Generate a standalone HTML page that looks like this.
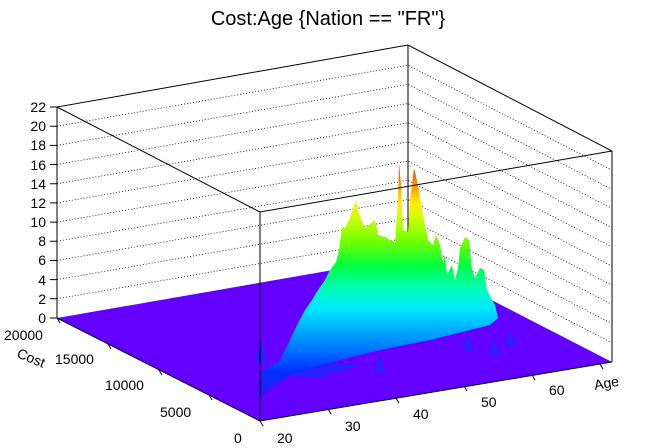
<!DOCTYPE html>
<html><head><style>
body{margin:0;background:#fff;}
svg{display:block;font-family:"Liberation Sans",Arial,sans-serif;}
</style></head><body>
<svg width="656" height="448" viewBox="0 0 656 448">
<defs>
<linearGradient id="g" x1="0" y1="400" x2="0" y2="160" gradientUnits="userSpaceOnUse">
<stop offset="0" stop-color="#3a10ff"/>
<stop offset="0.12" stop-color="#0030ff"/>
<stop offset="0.25" stop-color="#0090ff"/>
<stop offset="0.38" stop-color="#00e8ff"/>
<stop offset="0.47" stop-color="#00ffb0"/>
<stop offset="0.56" stop-color="#00ff40"/>
<stop offset="0.66" stop-color="#70ff00"/>
<stop offset="0.76" stop-color="#d0ff00"/>
<stop offset="0.82" stop-color="#ffee00"/>
<stop offset="0.9" stop-color="#ff9000"/>
<stop offset="1" stop-color="#ff2000"/>
</linearGradient>
</defs>
<text x="328" y="25" font-size="20" text-anchor="middle">Cost:Age {Nation == "FR"}</text>
<!-- grid lines -->
<g stroke="#000" stroke-width="0.8" stroke-dasharray="1,2" fill="none">
<path d="M57,298.8L408,237.8L612,342.8M57,279.6L408,218.6L612,323.6M57,260.5L408,199.5L612,304.5M57,241.3L408,180.3L612,285.3M57,222.1L408,161.1L612,266.1M57,202.9L408,141.9L612,246.9M57,183.7L408,122.7L612,227.7M57,164.5L408,103.5L612,208.5M57,145.4L408,84.4L612,189.4M57,126.2L408,65.2L612,170.2"/>
</g>
<!-- back edges -->
<g stroke="#000" stroke-width="1" fill="none">
<path d="M57,318L57,107L408,45L612,151L612,362"/>
<path d="M408,45L408,258"/>
</g>
<!-- floor -->
<polygon points="57,318 408,257 612,362 260,421" fill="#6400ff"/>
<!-- blue blobs -->
<g fill="#2a20ff">
<polygon points="255,360 262,340 268,365"/>
<polygon points="295,350 300,332 306,352"/>
<polygon points="322,295 328,275 333,300"/>
<polygon points="375,372 380,355 385,373"/>
<polygon points="463,350 468,335 474,352"/>
<polygon points="490,355 495,338 500,356"/>
<polygon points="505,345 510,330 517,348"/>
<polygon points="270,375 310,360 360,365 320,378"/>
</g>
<polygon fill="url(#g)" points="258,395 262,372 280,360 290,340 297,325 305,310 312,300 318,290 325,280 330,270 336,262 339,250 342,228 345,228 350,218 352,212 356,200 358,210 362,222 365,228 375,220 378,235 385,237 390,240 395,242 398,200 399,163 401,185 403,230 408,232 410,200 414,168 418,185 423,215 428,240 433,245 436,235 440,245 443,262 445,255 447,275 452,265 455,280 458,268 460,248 465,237 469,240 472,270 475,278 480,268 484,270 487,290 495,305 498,318 490,325 470,330 430,340 380,350 320,365 290,375 262,395"/>
<!-- front edges -->
<g stroke="#000" stroke-width="1" fill="none">
<path d="M57,107L260,212L612,151"/>
<path d="M260,212L260,421"/>
<path d="M57,318L260,421L612,362"/>
<path d="M57,318L57,107"/>
</g>
<!-- z ticks -->
<g stroke="#000" stroke-width="1">
<path d="M50,318H57M50,298.8H57M50,279.6H57M50,260.5H57M50,241.3H57M50,222.1H57M50,202.9H57M50,183.7H57M50,164.5H57M50,145.4H57M50,126.2H57M50,107H57"/>
<path d="M260,421L263,426M328,409L331,414M396,398L399,403M464,386L467,391M532,375L535,380M600,364L603,369"/>
<path d="M57,318L60,323M108,344L111,349M159,370L162,375M209,395L212,400"/>
</g>
<g font-size="14" text-anchor="end">
<text x="46" y="323">0</text><text x="46" y="304">2</text><text x="46" y="285">4</text><text x="46" y="265">6</text><text x="46" y="246">8</text><text x="46" y="227">10</text><text x="46" y="208">12</text><text x="46" y="189">14</text><text x="46" y="170">16</text><text x="46" y="150">18</text><text x="46" y="131">20</text><text x="46" y="112">22</text>
</g>
<g font-size="14">
<text x="4" y="340">20000</text><text x="55" y="364">15000</text><text x="105" y="390">10000</text><text x="160" y="417">5000</text><text x="234" y="443">0</text>
<text x="277" y="443">20</text><text x="345" y="431">30</text><text x="413" y="419">40</text><text x="481" y="407">50</text><text x="549" y="395">60</text>
<text transform="translate(595,390) rotate(-10)">Age</text>
<text transform="translate(16,357) rotate(22)">Cost</text>
</g>
</svg>
</body></html>
